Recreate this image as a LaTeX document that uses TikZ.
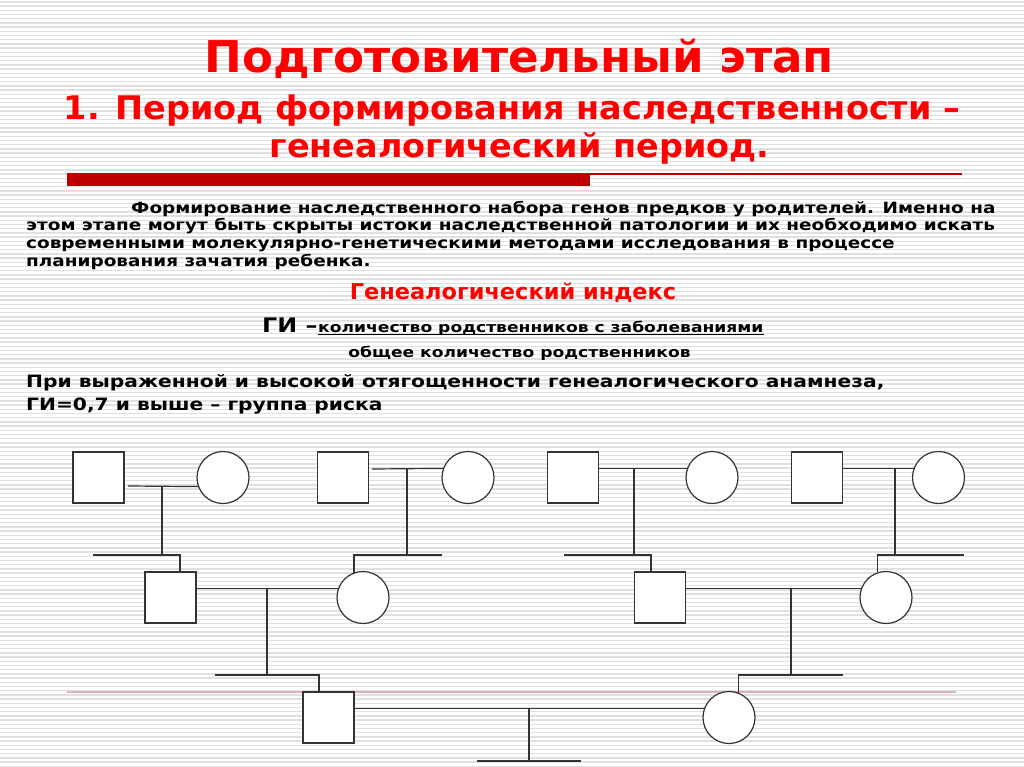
\documentclass[tikz,border=0pt]{standalone}
\usepackage{fontspec}
\setmainfont{DejaVu Sans}
\newfontfamily\headfont{DejaVu Sans}[FakeStretch=1.03]
\newfontfamily\bodyfont{DejaVu Sans}[FakeStretch=1.19]
\definecolor{titlered}{HTML}{FF0000}
\definecolor{barred}{HTML}{C00000}
\definecolor{stripegray}{HTML}{E0E0E0}
\definecolor{rulepink}{HTML}{D9B3BA}
\definecolor{pedline}{HTML}{333333}

\begin{document}
\begin{tikzpicture}[x=1pt, y=-1pt,
  male/.style={rectangle, draw=pedline, fill=white, line width=1.2pt, minimum width=51pt, minimum height=51pt, inner sep=0pt},
  female/.style={circle, draw=pedline, fill=white, line width=1.2pt, minimum size=52pt, inner sep=0pt},
  link/.style={draw=pedline, line width=1.2pt},
  head/.style={anchor=base, inner sep=0pt, text=titlered, font=\headfont\bfseries\fontsize{#1}{#1}\selectfont},
  body/.style={anchor=base west, inner sep=0pt, font=\bodyfont\bfseries\fontsize{#1}{#1}\selectfont}]

  \useasboundingbox (0,0) rectangle (1024,767);
  \fill[white] (0,0) rectangle (1024,767);
  \foreach \i in {0,...,182}
    \fill[stripegray] (0,\i*4.2+1.2) rectangle (1024,\i*4.2+2.6);

  % heading
  \node[head=43.8] (title)  at (519.5,73)  {Подготовительный этап};
  \node[head=32.5] (period) at (512,120)   {1. Период формирования наследственности –};
  \node[head=32.5] (genper) at (519.5,158) {генеалогический период.};
  \fill[barred] (67,173) rectangle (590,186);
  \draw[barred, line width=1.2pt] (590,174) -- (962,174);

  % text
  \node[body=15.5] (par1) at (131,214) {Формирование наследственного набора генов предков у родителей. Именно на};
  \node[body=15.5] (par2) at (26,231)  {этом этапе могут быть скрыты истоки наследственной патологии и их необходимо искать};
  \node[body=15.5] (par3) at (26,248)  {современными молекулярно-генетическими методами исследования в процессе};
  \node[body=15.5] (par4) at (26,266)  {планирования зачатия ребенка.};
  \node[head=21.8] (index) at (513,299) {Генеалогический индекс};
  \node[body=20] (gi)    at (262,332) {ГИ –};
  \node[body=14.4] (numer) at (318,332) {количество родственников с заболеваниями};
  \draw[line width=1.2pt] ([yshift=-2.5pt]numer.base west) -- ([yshift=-2.5pt]numer.base east);
  \node[body=14.4, anchor=base] (denom) at (519.5,357) {общее количество родственников};
  \node[body=17] (risk1) at (26,387) {При выраженной и высокой отягощенности генеалогического анамнеза,};
  \node[body=17] (risk2) at (26,410) {ГИ=0,7 и выше – группа риска};

  % pedigree
  \draw[rulepink, line width=1.5pt] (67,692) -- (956,692);

  \node[male]   (m1a) at (98.5,477.5) {};
  \node[female] (f1a) at (223,477.5)  {};
  \node[male]   (m1b) at (343,477.5)  {};
  \node[female] (f1b) at (468,477.5)  {};
  \node[male]   (m1c) at (573,477.5)  {};
  \node[female] (f1c) at (712,477.5)  {};
  \node[male]   (m1d) at (817,477.5)  {};
  \node[female] (f1d) at (938.5,477.5) {};
  \node[male]   (m2a) at (170.5,597.5) {};
  \node[female] (f2a) at (363,597.5)  {};
  \node[male]   (m2b) at (660,597.5)  {};
  \node[female] (f2b) at (886,597.5)  {};
  \node[male]   (m3)  at (328.5,717.5) {};
  \node[female] (f3)  at (729,717.5)  {};

  \coordinate (c1a) at (128,486);
  \coordinate (j1a) at (162,486);
  \coordinate (s1a) at (93,555);
  \coordinate (d1a) at (180,555);
  \coordinate (c1b) at (372,469);
  \coordinate (j1b) at (407,469);
  \coordinate (s1b) at (442,555);
  \coordinate (j1c) at (634,469);
  \coordinate (s1c) at (564,555);
  \coordinate (d1c) at (651,555);
  \coordinate (j1d) at (895,469);
  \coordinate (s1d) at (964,555);
  \coordinate (j2a) at (267,589);
  \coordinate (s2a) at (215,675);
  \coordinate (d2a) at (319,675);
  \coordinate (j2b) at (791,589);
  \coordinate (s2b) at (843,675);
  \coordinate (j3)  at (529,709);
  \coordinate (s3a) at (477,761);
  \coordinate (s3b) at (581,761);

  \draw[link] (c1a) -- (f1a.200);
  \draw[link] (j1a) -- (j1a |- s1a);
  \draw[link] (s1a) -- (d1a) -- (d1a |- m2a.north);
  \draw[link] (c1b) -- (f1b.160);
  \draw[link] (j1b) -- (j1b |- s1b);
  \draw[link] (s1b) -- (s1b -| f2a.110) -- (f2a.110);
  \draw[link] (m1c.east |- f1c.160) -- (f1c.160);
  \draw[link] (j1c) -- (j1c |- s1c);
  \draw[link] (s1c) -- (d1c) -- (d1c |- m2b.north);
  \draw[link] (m1d.east |- f1d.160) -- (f1d.160);
  \draw[link] (j1d) -- (j1d |- s1d);
  \draw[link] (s1d) -- (s1d -| f2b.108) -- (f2b.108);
  \draw[link] (m2a.east |- f2a.160) -- (f2a.160);
  \draw[link] (j2a) -- (j2a |- s2a);
  \draw[link] (s2a) -- (d2a) -- (d2a |- m3.north);
  \draw[link] (m2b.east |- f2b.160) -- (f2b.160);
  \draw[link] (j2b) -- (j2b |- s2b);
  \draw[link] (s2b) -- (s2b -| f3.70) -- (f3.70);
  \draw[link] (m3.east |- f3.160) -- (f3.160);
  \draw[link] (j3) -- (j3 |- s3a);
  \draw[link] (s3a) -- (s3b);
\end{tikzpicture}
\end{document}
